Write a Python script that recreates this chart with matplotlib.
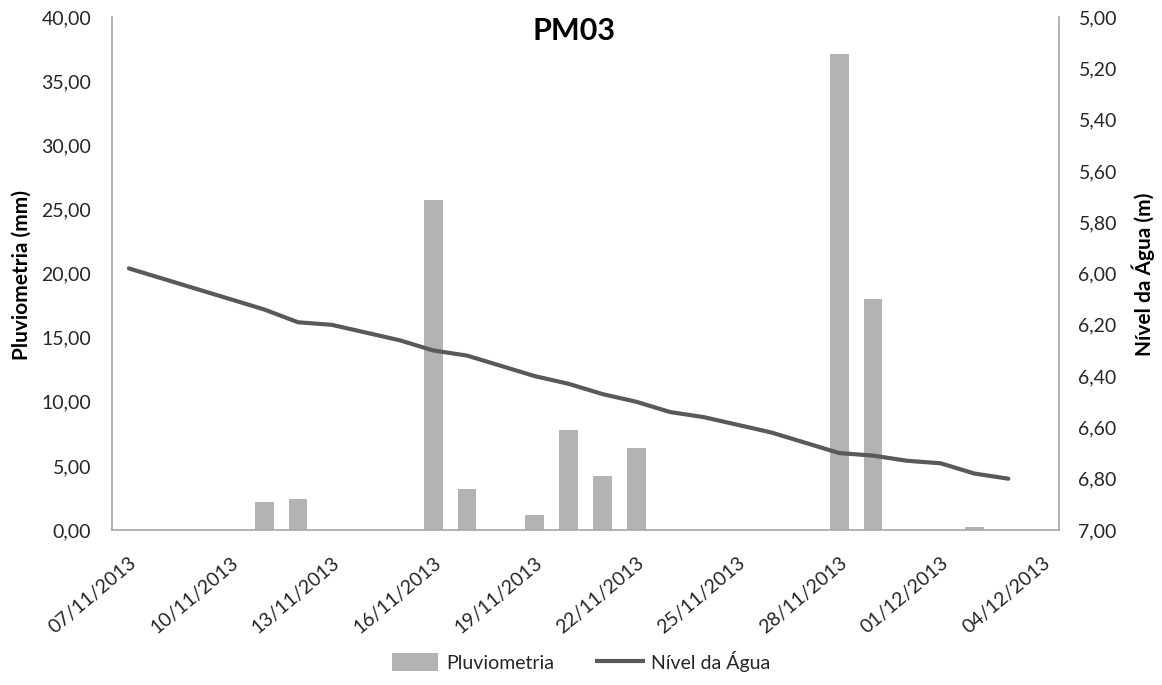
import matplotlib
matplotlib.use("Agg")
import matplotlib.pyplot as plt
import matplotlib.dates as mdates
import numpy as np
import pandas as pd
from matplotlib.lines import Line2D
from matplotlib.patches import Patch

plt.rcParams['font.family'] = ['Lato', 'DejaVu Sans']

# Data
level_dates = pd.date_range("2013-11-07", "2013-12-03", freq="D")
nivel_agua = [5.98, 6.02, 6.06, 6.10, 6.14, 6.19, 6.20, 6.23, 6.26, 6.30,
              6.32, 6.36, 6.40, 6.43, 6.47, 6.50, 6.54, 6.56, 6.59, 6.62,
              6.66, 6.70, 6.71, 6.73, 6.74, 6.78, 6.80]
rain_dates = pd.to_datetime(["2013-11-11", "2013-11-12", "2013-11-16", "2013-11-17",
                             "2013-11-19", "2013-11-20", "2013-11-21", "2013-11-22",
                             "2013-11-28", "2013-11-29", "2013-12-02"])
pluviometria = [2.2, 2.4, 25.7, 3.2, 1.2, 7.8, 4.2, 6.4, 37.1, 18.0, 0.2]
tick_dates = pd.date_range("2013-11-07", "2013-12-04", freq="3D")
title = "PM03"

fig = plt.figure(figsize=(11.62, 6.85), dpi=100)
ax = fig.add_axes([0.0964, 0.2263, 0.8150, 0.7487])
ax2 = ax.twinx()

bar_color = "#b3b3b3"
line_color = "#595959"
text_color = "#262626"
spine_color = "#a6a6a6"

ax.bar(mdates.date2num(rain_dates), pluviometria, width=0.55, color=bar_color, zorder=2)
ax2.plot(mdates.date2num(level_dates), nivel_agua, color=line_color, lw=3.0,
         solid_capstyle='round', zorder=3)

x0 = mdates.date2num(pd.Timestamp("2013-11-07")) - 0.5
x1 = mdates.date2num(pd.Timestamp("2013-12-04")) + 0.5
ax.set_xlim(x0, x1)
ax.set_ylim(0, 40)
l_ticks = np.arange(0, 40.01, 5)
ax.set_yticks(l_ticks)
ax.set_yticklabels([f"{v:.2f}".replace(".", ",") for v in l_ticks])
ax2.set_ylim(7.0, 5.0)
r_ticks = np.arange(5.0, 7.001, 0.2)
ax2.set_yticks(r_ticks)
ax2.set_yticklabels([f"{v:.2f}".replace(".", ",") for v in r_ticks])

ax.set_xticks(mdates.date2num(tick_dates))
ax.set_xticklabels([d.strftime("%d/%m/%Y") for d in tick_dates], rotation=40,
                   ha='right', rotation_mode='anchor')

for a in (ax, ax2):
    a.tick_params(axis='both', length=0, labelsize=14, colors=text_color)
    for s in a.spines.values():
        s.set_visible(False)
ax.tick_params(axis='x', pad=17)
ax.tick_params(axis='y', pad=15)
ax2.tick_params(axis='y', pad=14)
for side in ('left', 'right', 'bottom'):
    ax2.spines[side].set_visible(True)
    ax2.spines[side].set_color(spine_color)
    ax2.spines[side].set_linewidth(1.2)

fig.text(22 / 1162, 1 - 275 / 685, "Pluviometria (mm)", rotation=90, fontsize=15,
         fontweight='bold', color='black', ha='center', va='center')
fig.text(1143 / 1162, 1 - 274 / 685, "Nível da Água (m)", rotation=90, fontsize=15,
         fontweight='bold', color='black', ha='center', va='center')
fig.text(574 / 1162, 1 - 31 / 685, title, fontsize=22, fontweight='bold',
         color='black', ha='center', va='center')

handles = [Patch(facecolor=bar_color, edgecolor='none'),
           Line2D([0], [0], color=line_color, lw=3)]
fig.legend(handles, ["Pluviometria", "Nível da Água"], loc='center',
           bbox_to_anchor=(0.5, 0.035), ncol=2, frameon=False, fontsize=14,
           handlelength=2.4, handleheight=1.0, columnspacing=2.2,
           handletextpad=0.4, labelcolor=text_color)

fig.savefig("out.png", dpi=100)
